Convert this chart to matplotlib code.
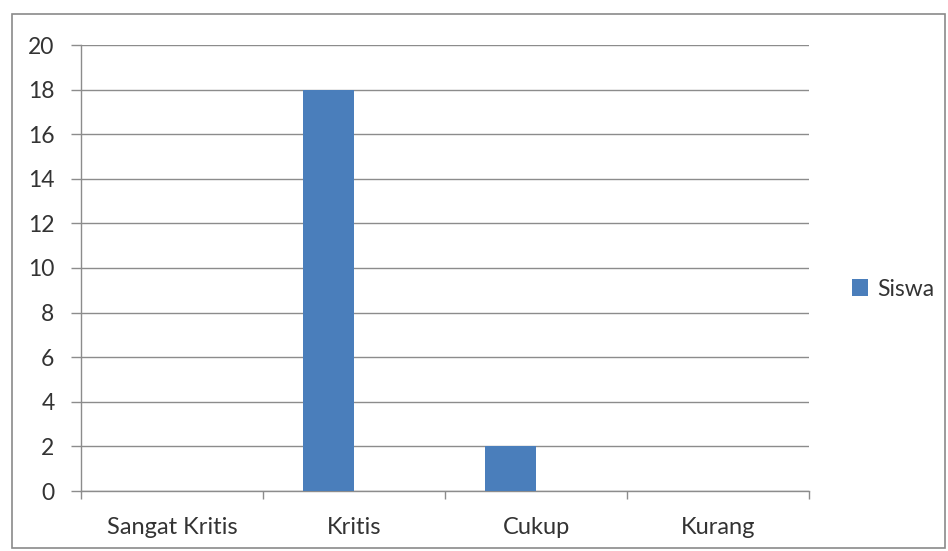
import matplotlib
matplotlib.use("Agg")
import matplotlib.pyplot as plt
from matplotlib.patches import Rectangle, Patch
import numpy as np

categories = ["Sangat Kritis", "Kritis", "Cukup", "Kurang"]
siswa = [0, 18, 2, 0]
y_ticks = [0, 2, 4, 6, 8, 10, 12, 14, 16, 18, 20]

plt.rcParams['font.family'] = ['Lato', 'DejaVu Sans']
FS = 16.5
TXT = "#333333"

fig = plt.figure(figsize=(9.48, 5.51), dpi=100)
# outer chart frame
fig.patches.append(Rectangle((12 / 948, 3 / 551), 933 / 948, 534 / 551,
                             transform=fig.transFigure, fill=False,
                             edgecolor="#8a8a8a", linewidth=1.2))

ax = fig.add_axes([81 / 948, 60 / 551, 728 / 948, 446 / 551])

x = np.arange(len(categories))
bar_w = 0.28
ax.bar(x - bar_w / 2, siswa, width=bar_w, color="#4a7ebb", zorder=3)

ax.set_xlim(-0.5, len(categories) - 0.5)
ax.set_ylim(0, 20)
ax.set_yticks(y_ticks)
ax.yaxis.grid(True, color="#8c8c8c", linewidth=1.0, zorder=0)

ax.set_xticks(x)
ax.set_xticklabels(categories, fontsize=17)
ax.tick_params(axis='x', length=0, pad=19, labelcolor=TXT)
ax.tick_params(axis='y', length=7, width=1, color="#8c8c8c", pad=12,
               labelsize=FS, labelcolor=TXT)

# boundary tick marks between categories
ax.set_xticks(np.arange(-0.5, len(categories)), minor=True)
ax.tick_params(axis='x', which='minor', length=6, width=1, color="#8c8c8c")

for side in ['top', 'right']:
    ax.spines[side].set_visible(False)
for side in ['left', 'bottom']:
    ax.spines[side].set_color("#8c8c8c")
    ax.spines[side].set_linewidth(1.0)

handle = Patch(facecolor="#4a7ebb", edgecolor="none", label="Siswa")
fig.legend(handles=[handle], loc='center left', bbox_to_anchor=(831 / 948, 262 / 551),
           frameon=False, fontsize=FS, handlelength=0.7, handleheight=0.7,
           handletextpad=0.4, labelcolor=TXT)

fig.savefig("out.png", dpi=100)
